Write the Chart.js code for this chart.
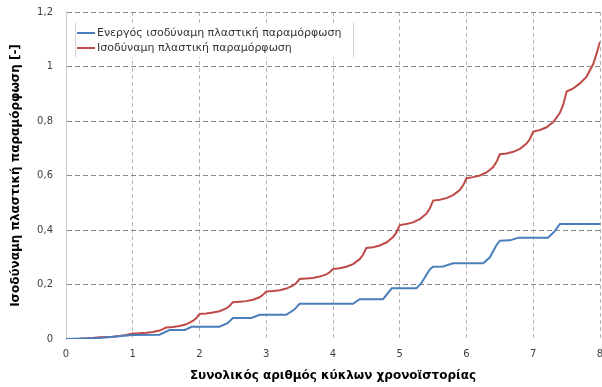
<!DOCTYPE html>
<html>
<head>
<meta charset="utf-8">
<title>Ισοδύναμη πλαστική παραμόρφωση</title>
<script src="https://cdn.jsdelivr.net/npm/chart.js"></script>
<style>
  html, body { margin: 0; padding: 0; background: #fff; }
  #wrap { width: 602px; height: 387px; }
</style>
</head>
<body>
<div id="wrap"><canvas id="strainChart"></canvas></div>
<script>
// Equivalent plastic strain vs. number of cycles
const redCycles = [
  0, 0.2, 0.4, 0.5,
  0.6, 0.7, 0.8, 0.9, 1.0,
  1.1, 1.2, 1.3, 1.4, 1.45, 1.5,
  1.6, 1.7, 1.8, 1.9, 1.95, 2.0,
  2.1, 2.2, 2.3, 2.4, 2.45, 2.5,
  2.6, 2.7, 2.8, 2.9, 2.95, 3.0,
  3.1, 3.2, 3.3, 3.4, 3.45, 3.5,
  3.6, 3.7, 3.8, 3.9, 3.95, 4.0,
  4.1, 4.2, 4.3, 4.4, 4.45, 4.5,
  4.6, 4.7, 4.8, 4.9, 4.95, 5.0,
  5.1, 5.2, 5.3, 5.4, 5.45, 5.5,
  5.6, 5.7, 5.8, 5.9, 5.95, 6.0,
  6.1, 6.2, 6.3, 6.4, 6.45, 6.5,
  6.6, 6.7, 6.8, 6.9, 6.95, 7.0,
  7.1, 7.2, 7.3, 7.4, 7.45, 7.5,
  7.6, 7.7, 7.8, 7.9, 7.95, 8.0
];
const redStrain = [
  0, 0.001, 0.004, 0.006,
  0.007, 0.008, 0.011, 0.015, 0.020,
  0.021, 0.023, 0.026, 0.031, 0.036, 0.042,
  0.044, 0.048, 0.054, 0.066, 0.076, 0.092,
  0.094, 0.097, 0.102, 0.112, 0.121, 0.135,
  0.137, 0.139, 0.144, 0.153, 0.162, 0.174,
  0.176, 0.179, 0.185, 0.196, 0.205, 0.220,
  0.222, 0.224, 0.229, 0.237, 0.245, 0.257,
  0.260, 0.265, 0.275, 0.293, 0.309, 0.334,
  0.337, 0.343, 0.354, 0.374, 0.391, 0.418,
  0.422, 0.428, 0.440, 0.460, 0.479, 0.508,
  0.511, 0.517, 0.528, 0.547, 0.564, 0.590,
  0.594, 0.600, 0.611, 0.631, 0.650, 0.678,
  0.681, 0.687, 0.698, 0.717, 0.734, 0.761,
  0.767, 0.777, 0.796, 0.830, 0.861, 0.908,
  0.920, 0.938, 0.963, 1.010, 1.048, 1.091
];

const blueCycles = [
  0, 0.5, 1.0, 1.4, 1.55, 1.78, 1.88, 2.3, 2.42, 2.5, 2.78, 2.9,
  3.3, 3.42, 3.5, 4.3, 4.4, 4.75, 4.88, 5.25, 5.32, 5.45, 5.5,
  5.65, 5.8, 6.25, 6.35, 6.45, 6.5, 6.65, 6.78, 7.22, 7.32, 7.4, 8.0
];
const blueStrain = [
  0, 0.004, 0.015, 0.016, 0.033, 0.033, 0.045, 0.045, 0.058, 0.077, 0.077, 0.089,
  0.089, 0.108, 0.129, 0.129, 0.146, 0.146, 0.186, 0.186, 0.204, 0.255, 0.265,
  0.266, 0.278, 0.278, 0.300, 0.345, 0.361, 0.362, 0.372, 0.372, 0.395, 0.422, 0.422
];

const seriesLabels = [
  'Ενεργός ισοδύναμη πλαστική παραμόρφωση',
  'Ισοδύναμη πλαστική παραμόρφωση'
];
const yTickLabels = ['0', '0,2', '0,4', '0,6', '0,8', '1', '1,2'];
const xTickLabels = ['0', '1', '2', '3', '4', '5', '6', '7', '8'];

const toPoints = (xs, ys) => xs.map((x, i) => ({ x: x, y: ys[i] }));

// Legend box drawn inside the plot area
const innerLegend = {
  id: 'innerLegend',
  afterDatasetsDraw(chart) {
    const ctx = chart.ctx;
    const left = chart.chartArea.left + 9;
    const right = left + 278;
    const top = chart.chartArea.top + 11;
    const bottom = top + 34;
    ctx.save();
    ctx.fillStyle = '#fff';
    ctx.fillRect(left, top, right - left, bottom - top);
    ctx.strokeStyle = '#d0d0d0';
    ctx.lineWidth = 1;
    ctx.beginPath();
    ctx.moveTo(left + 0.5, top); ctx.lineTo(left + 0.5, bottom);
    ctx.moveTo(right + 0.5, top); ctx.lineTo(right + 0.5, bottom);
    ctx.stroke();
    ctx.font = '11px "DejaVu Sans"';
    ctx.textBaseline = 'middle';
    chart.data.datasets.forEach((ds, i) => {
      const y = top + 10 + i * 15;
      ctx.strokeStyle = ds.borderColor;
      ctx.lineWidth = 2;
      ctx.beginPath();
      ctx.moveTo(left + 2, y);
      ctx.lineTo(left + 20, y);
      ctx.stroke();
      ctx.fillStyle = '#333';
      ctx.fillText(ds.label, left + 22, y);
    });
    ctx.restore();
  }
};

const ctx = document.getElementById('strainChart').getContext('2d');
new Chart(ctx, {
  type: 'line',
  data: {
    datasets: [{
      label: seriesLabels[0],
      data: toPoints(blueCycles, blueStrain),
      borderColor: '#4a7ebb',
      borderWidth: 2,
      pointRadius: 0,
      tension: 0,
      fill: false
    }, {
      label: seriesLabels[1],
      data: toPoints(redCycles, redStrain),
      borderColor: '#be4b48',
      borderWidth: 2,
      pointRadius: 0,
      tension: 0,
      fill: false
    }]
  },
  options: {
    responsive: true,
    maintainAspectRatio: false,
    animation: false,
    layout: { padding: { top: 12, right: 2, left: 0, bottom: 0 } },
    plugins: {
      legend: { display: false },
      tooltip: { enabled: false }
    },
    scales: {
      x: {
        type: 'linear',
        min: 0,
        max: 8,
        ticks: {
          stepSize: 1,
          padding: 9,
          color: '#404040',
          font: { family: 'DejaVu Sans', size: 10 },
          callback: (v, i) => xTickLabels[i]
        },
        grid: {
          drawTicks: false,
          color: ctx => ctx.index === 0 ? 'rgba(0,0,0,0)' : '#b8b8b8'
        },
        border: { display: false, dash: [4, 3] },
        title: {
          display: true,
          text: 'Συνολικός αριθμός κύκλων χρονοϊστορίας',
          color: '#000',
          font: { family: 'DejaVu Sans', size: 12, weight: 'bold' },
          padding: { top: 0, bottom: 4 }
        },
        afterFit: scale => {
          scale.height = 48;
          scale.paddingLeft = 0;
          scale.paddingRight = 0;
        }
      },
      y: {
        min: 0,
        max: 1.2,
        ticks: {
          stepSize: 0.2,
          padding: 13,
          color: '#404040',
          font: { family: 'DejaVu Sans', size: 10 },
          callback: (v, i) => yTickLabels[i]
        },
        grid: {
          drawTicks: false,
          color: ctx => ctx.index === 0 ? 'rgba(0,0,0,0)' : '#888888'
        },
        border: { display: true, color: '#c8c8c8', width: 1, dash: [5, 3] },
        title: {
          display: true,
          text: 'Ισοδύναμη πλαστική παραμόρφωση [-]',
          color: '#000',
          font: { family: 'DejaVu Sans', size: 12, weight: 'bold' },
          padding: { top: 9, bottom: 0 }
        },
        afterFit: scale => {
          scale.width = 66;
          scale.paddingTop = 0;
          scale.paddingBottom = 0;
        }
      }
    }
  },
  plugins: [innerLegend]
});
</script>
</body>
</html>
